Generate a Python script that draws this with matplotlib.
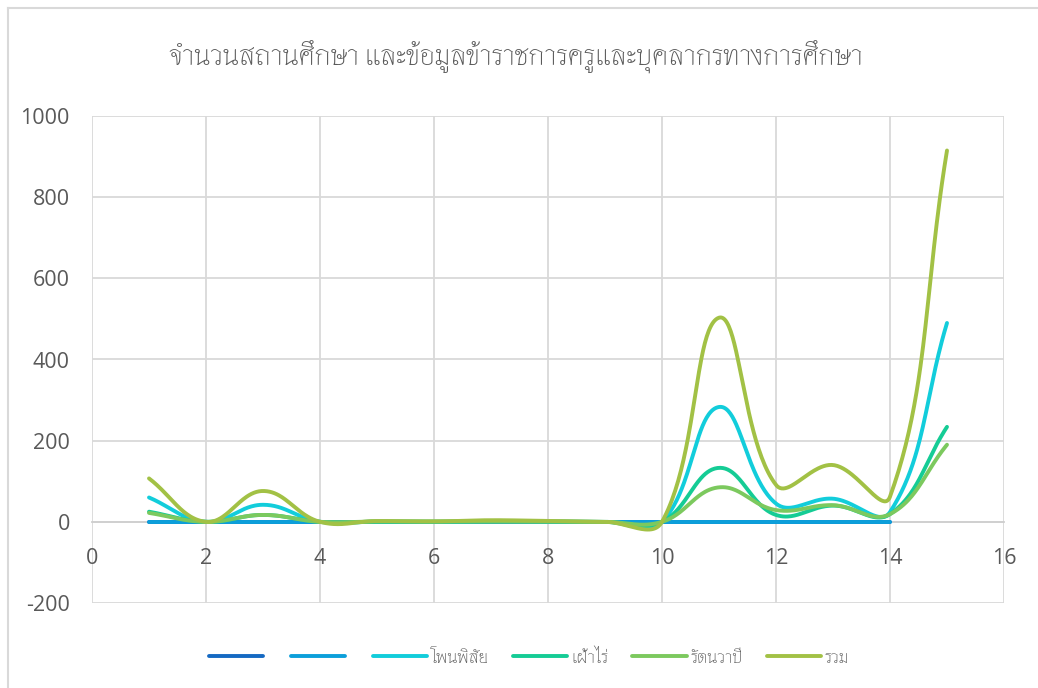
import numpy as np
import matplotlib
matplotlib.use("Agg")
import matplotlib.pyplot as plt
from matplotlib.lines import Line2D

# data
x_all = [1, 2, 3, 4, 5, 6, 7, 8, 9, 10, 11, 12, 13, 14, 15]
x_short = [1, 2, 3, 4, 5, 6, 7, 8, 9, 10, 11, 12, 13, 14]
series_a = [0, 0, 0, 0, 0, 0, 0, 0, 0, 0, 0, 0, 0, 0]
series_b = [0, 0, 0, 0, 0, 0, 0, 0, 0, 0, 0, 0, 0, 0]
phon_phisai = [60, 0, 42, 0, 1, 0, 2, 1, 0, 0, 283, 45, 57, 24, 490]
fao_rai = [25, 0, 17, 0, 0, 0, 1, 0, 0, 0, 133, 17, 40, 19, 234]
rattana_wapi = [22, 0, 17, 0, 1, 1, 1, 1, 0, 0, 85, 29, 41, 19, 190]
total = [107, 0, 76, 0, 2, 1, 4, 2, 0, 0, 503, 91, 140, 62, 915]

labels = ["", "", "โพนพิสัย", "เฝ้าไร่", "รัตนวาปี", "รวม"]
colors = ["#1569C2", "#0C9FDA", "#12CDDB", "#15CC95", "#7CC95E", "#A2C145"]
title = "จำนวนสถานศึกษา และข้อมูลข้าราชการครูและบุคลากรทางการศึกษา"

plt.rcParams["axes.unicode_minus"] = False
THAI = ["Thasadith", "DejaVu Sans"]
NUM = ["Open Sans", "DejaVu Sans"]
GREY = "#595959"
GRID = "#D9D9D9"

W, H = 1038, 688
AX_POS = [92 / W, 1 - 603 / H, (1004 - 92) / W, (603 - 116) / H]
XLIM = (0, 16)
YLIM = (-200, 1000)


def smooth(xs, ys, s=0.4, n=50):
    # Excel-like smoothed line: bezier with tangents weighted by
    # neighbouring segment lengths (measured in pixels)
    sx = AX_POS[2] * W / (XLIM[1] - XLIM[0])
    sy = AX_POS[3] * H / (YLIM[1] - YLIM[0])
    p = np.column_stack([np.asarray(xs, float) * sx, np.asarray(ys, float) * sy])
    m = len(p)
    d = np.hypot(*(p[1:] - p[:-1]).T)
    t = np.linspace(0, 1, n)[:, None]
    out = []
    for i in range(m - 1):
        p0, p3 = p[i], p[i + 1]
        if i == 0:
            p1 = p0 + (p3 - p0) * s
        else:
            p1 = p0 + (p3 - p[i - 1]) * d[i] / (d[i - 1] + d[i]) * s
        if i == m - 2:
            p2 = p3 - (p3 - p0) * s
        else:
            p2 = p3 - (p[i + 2] - p0) * d[i] / (d[i] + d[i + 1]) * s
        c = ((1 - t) ** 3) * p0 + 3 * ((1 - t) ** 2) * t * p1 + 3 * (1 - t) * t ** 2 * p2 + t ** 3 * p3
        out.append(c if i == 0 else c[1:])
    c = np.vstack(out)
    return c[:, 0] / sx, c[:, 1] / sy


fig = plt.figure(figsize=(W / 100, H / 100), dpi=100)
ax = fig.add_axes(AX_POS)

data = [(x_short, series_a), (x_short, series_b), (x_all, phon_phisai),
        (x_all, fao_rai), (x_all, rattana_wapi), (x_all, total)]
handles = []
for (xs, ys), col in zip(data, colors):
    sxs, sys_ = smooth(xs, ys)
    ax.plot(sxs, sys_, color=col, lw=2.8, solid_capstyle="round", zorder=3)
    handles.append(Line2D([0], [0], color=col, lw=2.8, solid_capstyle="round"))

ax.set_xlim(*XLIM)
ax.set_ylim(*YLIM)
ax.set_xticks(np.arange(0, 17, 2))
ax.set_yticks(np.arange(-200, 1001, 200))
ax.grid(True, color=GRID, lw=1.3, zorder=0)
ax.set_axisbelow(True)
for s in ["top", "right", "left"]:
    ax.spines[s].set_visible(False)
ax.spines["bottom"].set_position(("data", 0))
ax.spines["bottom"].set_color("#CFCFCF")
ax.spines["bottom"].set_linewidth(1.3)
ax.tick_params(axis="x", length=0, pad=19, labelsize=15.5, labelcolor=GREY)
ax.tick_params(axis="y", length=0, pad=16, labelsize=15.5, labelcolor=GREY)
for lab in ax.get_xticklabels() + ax.get_yticklabels():
    lab.set_family(NUM)

fig.text(516 / W, 1 - 57 / H, title, ha="center", va="center",
         fontsize=21, color=GREY, family=THAI)

leg = fig.legend(handles, labels, loc="center", bbox_to_anchor=(529 / W, 1 - 657 / H),
                 ncol=6, frameon=False, handlelength=3.0, handletextpad=0.2,
                 columnspacing=1.35, prop={"family": THAI, "size": 13})
for t in leg.get_texts():
    t.set_color(GREY)

# outer chart border
fig.add_artist(Line2D([8 / W, 8 / W], [0, 1 - 8 / H], color=GRID, lw=1.5))
fig.add_artist(Line2D([8 / W, 1], [1 - 8 / H, 1 - 8 / H], color=GRID, lw=1.5))

fig.savefig("out.png", dpi=100)
